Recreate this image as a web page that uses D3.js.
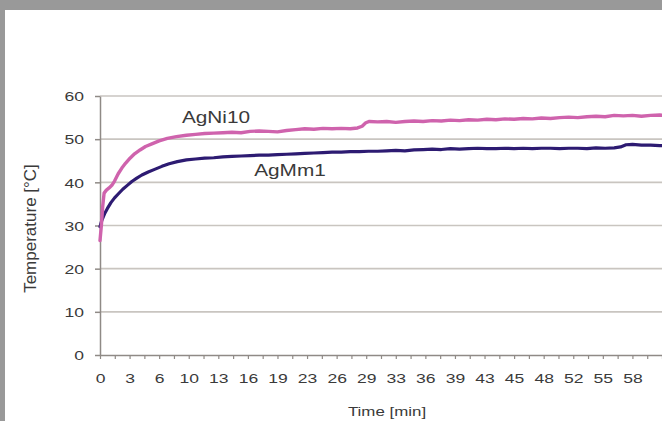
<!DOCTYPE html>
<html>
<head>
<meta charset="utf-8">
<script src="https://cdn.jsdelivr.net/npm/d3@7/dist/d3.min.js"></script>
<style>
  html, body { margin: 0; padding: 0; background: #999999; }
  svg { display: block; }
  text { font-family: "Liberation Sans", Arial, sans-serif; fill: #3a3a3a; }
</style>
</head>
<body>
<svg id="chart" width="662" height="421"></svg>
<script>
// ---- data ----
const xTickLabels = ["0","3","6","10","13","16","19","23","26","29","33","36","39","43","45","48","52","55","58"];
const yTicks = [0, 10, 20, 30, 40, 50, 60];
const seriesNames = ["AgNi10", "AgMm1"];

const agni10Time = [0,0.15,0.3,0.45,0.7,1.0,1.3,1.6,2.0,2.4,2.8,3.3,3.8,4.4,5.0,5.7,6.5,7.4,8.4,9.5,10.5,11.5,12.5,13.5,14.5,15.5,16.5,17.5,18.5,19.5,20.5,21.5,22.5,23.5,24.5,25.5,26.5,27.5,28.3,28.8,29.2,29.6,30.5,31.5,32.5,33.5,34.5,35.5,36.5,37.5,38.5,39.5,40.5,41.5,42.5,43.5,44.5,45.5,46.5,47.5,48.5,49.5,50.5,51.5,52.5,53.5,54.5,55.5,56.5,57.5,58.5,59.5,60.5,61.5,62];
const agni10Temp = [26.5,30.0,34.5,37.5,38.2,38.7,39.3,40.3,42.0,43.3,44.4,45.6,46.6,47.5,48.3,48.9,49.6,50.2,50.6,50.9,51.1,51.3,51.4,51.5,51.6,51.5,51.8,51.9,51.8,51.7,52.0,52.2,52.4,52.3,52.5,52.4,52.5,52.4,52.6,53.0,53.8,54.1,54.0,54.1,53.9,54.1,54.2,54.1,54.3,54.2,54.4,54.3,54.5,54.4,54.6,54.5,54.7,54.6,54.8,54.7,54.9,54.8,55.0,55.1,55.0,55.2,55.3,55.2,55.5,55.4,55.5,55.3,55.5,55.6,55.5];

const agmm1Time = [0,0.2,0.5,0.8,1.2,1.6,2.0,2.5,3.0,3.5,4.0,4.6,5.3,6.0,6.8,7.6,8.5,9.5,10.5,11.5,12.5,13.5,14.5,15.5,16.5,17.5,18.5,19.5,20.5,21.5,22.5,23.5,24.5,25.5,26.5,27.5,28.5,29.5,30.5,31.5,32.5,33.5,34.5,35.5,36.5,37.5,38.5,39.5,40.5,41.5,42.5,43.5,44.5,45.5,46.5,47.5,48.5,49.5,50.5,51.5,52.5,53.5,54.5,55.5,56.5,57.2,57.8,58.5,59.5,60.5,61.5,62];
const agmm1Temp = [29.7,31.2,32.7,33.9,35.3,36.4,37.3,38.4,39.3,40.2,40.9,41.7,42.4,43.0,43.7,44.3,44.8,45.2,45.4,45.6,45.7,45.9,46.0,46.1,46.2,46.3,46.3,46.4,46.5,46.6,46.7,46.8,46.9,47.0,47.0,47.1,47.1,47.2,47.2,47.3,47.4,47.3,47.5,47.6,47.7,47.6,47.8,47.7,47.8,47.9,47.8,47.8,47.9,47.8,47.9,47.8,47.9,47.9,47.8,47.9,47.9,47.8,48.0,47.9,48.0,48.2,48.7,48.8,48.6,48.6,48.5,48.5];

const labelStep = 3.25; // minutes between labelled categories
const xMax = 61.75;

// ---- layout ----
const svg = d3.select("#chart");
const W = 662, H = 421;
const stretch = 1.3;

svg.append("rect").attr("x", 0).attr("y", 0).attr("width", W).attr("height", H).attr("fill", "#999999");
svg.append("rect").attr("x", 5).attr("y", 10).attr("width", W - 5).attr("height", H - 10).attr("fill", "#ffffff");

const x = d3.scaleLinear().domain([0, xMax]).range([100, 662]);
const y = d3.scaleLinear().domain([0, 60]).range([355, 96]);

// gridlines
svg.append("g").selectAll("line")
  .data(yTicks.filter(d => d > 0))
  .join("line")
  .attr("x1", 100).attr("x2", W)
  .attr("y1", d => y(d)).attr("y2", d => y(d))
  .attr("stroke", "#c9c5c0").attr("stroke-width", 1.6);

// y axis
const yAxis = svg.append("g").attr("transform", "translate(100,0)")
  .call(d3.axisLeft(y).tickValues(yTicks).tickSize(5).tickSizeOuter(0).tickFormat(d3.format("d")));
yAxis.select(".domain").attr("stroke", "#8f8a86").attr("stroke-width", 1.5);
yAxis.selectAll(".tick line").attr("stroke", "#8f8a86").attr("stroke-width", 1.5);
yAxis.selectAll(".tick text")
  .attr("x", -16 / stretch).attr("dy", "0.35em")
  .attr("transform", `scale(${stretch},1)`)
  .style("font-size", "13.5px").style("font-family", "Liberation Sans, Arial, sans-serif").attr("fill", "#3a3a3a");

// x axis
const xTickVals = d3.range(0, xTickLabels.length * 2 + 1).map(i => i * labelStep / 2);
const xAxis = svg.append("g").attr("transform", "translate(0,355)")
  .call(d3.axisBottom(x).tickValues(xTickVals).tickSize(4).tickSizeOuter(0)
    .tickFormat((d, i) => (i % 2 === 0 && xTickLabels[i / 2] !== undefined) ? xTickLabels[i / 2] : ""));
xAxis.select(".domain").attr("stroke", "#8f8a86").attr("stroke-width", 1.5);
xAxis.selectAll(".tick line").attr("stroke", "#8f8a86").attr("stroke-width", 1.2);
xAxis.selectAll(".tick text")
  .attr("y", 28.5).attr("dy", 0)
  .attr("transform", `scale(${stretch},1)`)
  .style("font-size", "13.5px").style("font-family", "Liberation Sans, Arial, sans-serif").attr("fill", "#3a3a3a");

// lines
const line = d3.line().x(d => x(d[0])).y(d => y(d[1]));
const agni10 = agni10Time.map((t, i) => [t, agni10Temp[i]]);
const agmm1 = agmm1Time.map((t, i) => [t, agmm1Temp[i]]);

svg.append("path").datum(agmm1).attr("d", line)
  .attr("fill", "none").attr("stroke", "#2d1b72").attr("stroke-width", 3.2)
  .attr("stroke-linejoin", "round").attr("stroke-linecap", "round");
svg.append("path").datum(agni10).attr("d", line)
  .attr("fill", "none").attr("stroke", "#cf63ad").attr("stroke-width", 3.4)
  .attr("stroke-linejoin", "round").attr("stroke-linecap", "round");

// series labels
svg.append("text").attr("transform", `translate(216,122.5) scale(${stretch},1)`)
  .attr("text-anchor", "middle").style("font-size", "16px").text(seriesNames[0]);
svg.append("text").attr("transform", `translate(290,175.5) scale(${stretch},1)`)
  .attr("text-anchor", "middle").style("font-size", "16px").text(seriesNames[1]);

// axis titles
svg.append("text").attr("transform", `translate(387,416) scale(${stretch},1)`)
  .attr("text-anchor", "middle").style("font-size", "13px").text("Time [min]");
svg.append("text").attr("transform", "translate(36,228.5) rotate(-90)")
  .attr("text-anchor", "middle").style("font-size", "17px").text("Temperature [°C]");
</script>
</body>
</html>
